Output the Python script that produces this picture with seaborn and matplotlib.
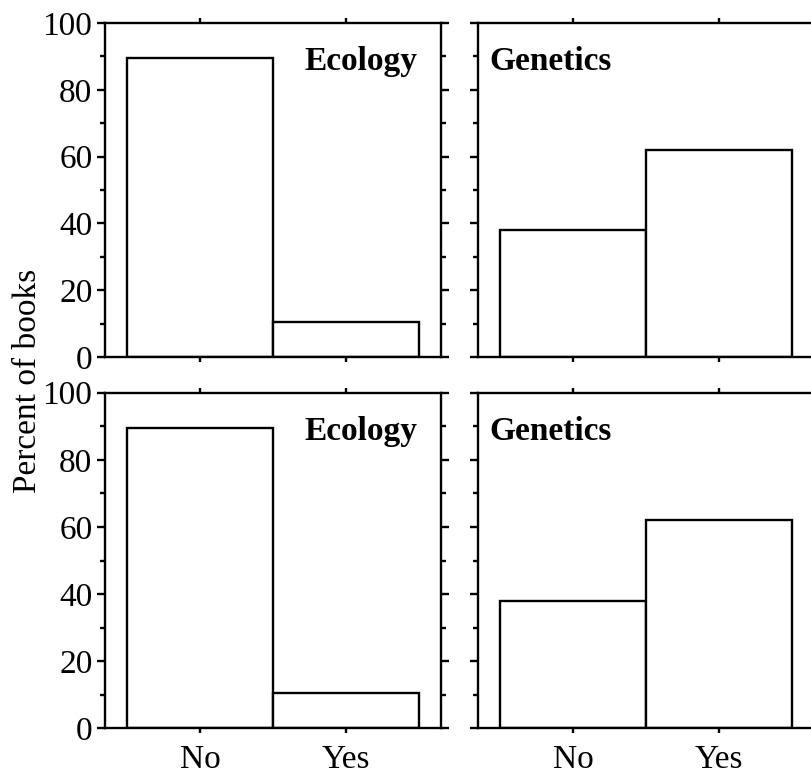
import numpy as np
import pandas as pd
import seaborn as sns
import matplotlib.pyplot as plt
from matplotlib.ticker import MultipleLocator

sns.set_style("ticks")
plt.rcParams['font.family'] = ['Liberation Serif', 'DejaVu Serif']
plt.rcParams['font.size'] = 24
plt.rcParams['text.color'] = 'black'
plt.rcParams['xtick.labelcolor'] = 'black'
plt.rcParams['ytick.labelcolor'] = 'black'
plt.rcParams['axes.labelcolor'] = 'black'

answers = ["No", "Yes"]
ecology_pct = [89.5, 10.5]
genetics_pct = [38.0, 62.0]
panel_titles = ["Ecology", "Genetics"]
y_ticks = [0, 20, 40, 60, 80, 100]

LW = 1.7


def make_frame(values):
    return pd.DataFrame({"answer": answers, "percent": values})


def draw_panel(ax, values, title, show_x, show_y, title_right):
    sns.barplot(data=make_frame(values), x="answer", y="percent", order=answers,
                color="white", saturation=1, edgecolor="black", linewidth=LW,
                width=1.0, errorbar=None, ax=ax)
    ax.set_xlim(-0.65, 1.65)
    ax.set_ylim(0, 100)
    ax.set_yticks(y_ticks)
    ax.yaxis.set_minor_locator(MultipleLocator(10))
    ax.set_xlabel("")
    ax.set_ylabel("")
    for sp in ax.spines.values():
        sp.set_visible(True)
        sp.set_linewidth(LW)
        sp.set_color("black")
    ax.tick_params(axis="both", which="both", direction="out", top=True, right=True,
                   width=LW, color="black", labelcolor="black")
    ax.tick_params(axis="y", which="major", length=6, pad=3)
    ax.tick_params(axis="y", which="minor", length=3.5)
    ax.tick_params(axis="x", which="major", length=3.5, pad=8)
    if not show_x:
        ax.set_xticklabels([])
    if not show_y:
        ax.set_yticklabels([])
    if title_right:
        ax.text(0.93, 0.86, title, transform=ax.transAxes, ha="right", va="baseline",
                fontweight="bold", fontsize=24, color="black")
    else:
        ax.text(0.035, 0.86, title, transform=ax.transAxes, ha="left", va="baseline",
                fontweight="bold", fontsize=24, color="black")


fig = plt.figure(figsize=(8.12, 7.78), dpi=100)
w = 336 / 812
ax_tl = fig.add_axes([105 / 812, 1 - 357 / 778, w, 334 / 778])
ax_tr = fig.add_axes([478 / 812, 1 - 357 / 778, w, 334 / 778])
ax_bl = fig.add_axes([105 / 812, 1 - 728.3 / 778, w, 335.6 / 778])
ax_br = fig.add_axes([478 / 812, 1 - 728.3 / 778, w, 335.6 / 778])

draw_panel(ax_tl, ecology_pct, panel_titles[0], False, True, True)
draw_panel(ax_tr, genetics_pct, panel_titles[1], False, False, False)
draw_panel(ax_bl, ecology_pct, panel_titles[0], True, True, True)
draw_panel(ax_br, genetics_pct, panel_titles[1], True, False, False)

fig.text(28 / 812, 1 - 381 / 778, "Percent of books", rotation=90,
         ha="center", va="center", fontsize=24, color="black")

fig.savefig("out.png", dpi=100)
